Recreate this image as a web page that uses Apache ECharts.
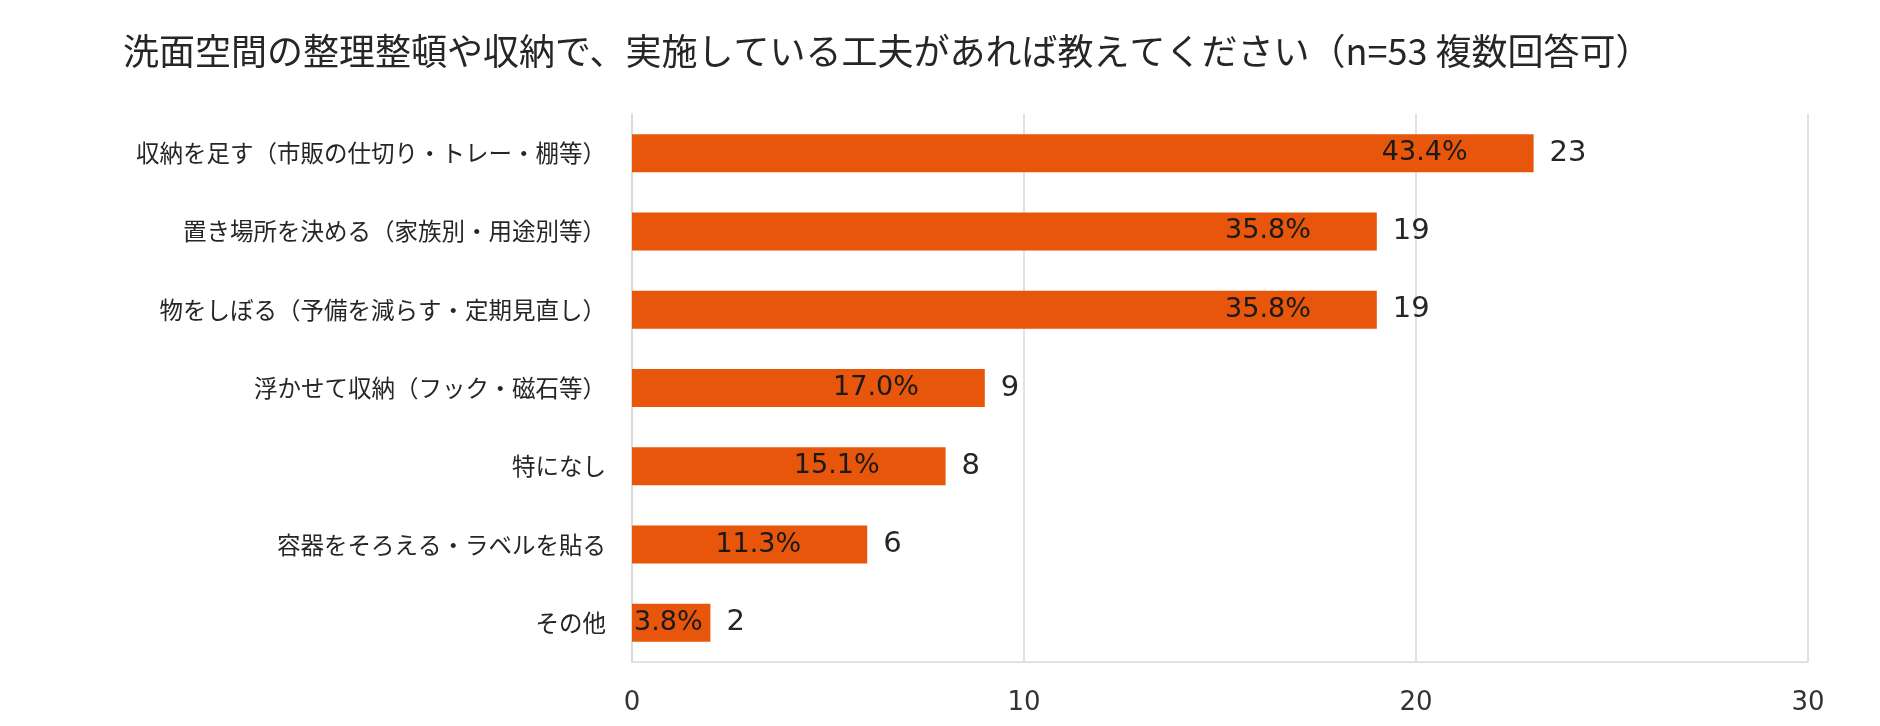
<!DOCTYPE html>
<html>
<head>
<meta charset="utf-8">
<script src="https://cdn.jsdelivr.net/npm/echarts@6/dist/echarts.min.js"></script>
<style>
  html, body { margin: 0; padding: 0; background: #fff; }
  #main { width: 1880px; height: 726px; }
</style>
</head>
<body>
<div id="main"></div>
<script>
// answers (top to bottom)
var categories = [
  '収納を足す（市販の仕切り・トレー・棚等）',
  '置き場所を決める（家族別・用途別等）',
  '物をしぼる（予備を減らす・定期見直し）',
  '浮かせて収納（フック・磁石等）',
  '特になし',
  '容器をそろえる・ラベルを貼る',
  'その他'
];
var counts = [23, 19, 19, 9, 8, 6, 2];
var percents = [43.4, 35.8, 35.8, 17.0, 15.1, 11.3, 3.8];
var xTicks = { min: 0, max: 30, interval: 10 };

var jp = '"Noto Sans CJK JP", "Noto Sans", sans-serif';
var num = '"DejaVu Sans", Verdana, sans-serif';

var barData = counts.map(function (v, i) {
  var small = v < 3;
  return {
    value: v,
    pct: percents[i],
    label: {
      position: small ? 'insideLeft' : 'insideRight',
      distance: small ? 2 : 66
    }
  };
});

try {
  var chart = echarts.init(document.getElementById('main'));
  var option = {
    animation: false,
    backgroundColor: '#ffffff',
    title: {
      text: '洗面空間の整理整頓や収納で、実施している工夫があれば教えてください（n=53 複数回答可）',
      left: 118,
      top: 28,
      textStyle: { fontFamily: jp, fontSize: 36, fontWeight: 'normal', color: '#262626' }
    },
    grid: { left: 632, right: 72, top: 114, bottom: 64 },
    xAxis: {
      type: 'value',
      min: xTicks.min,
      max: xTicks.max,
      interval: xTicks.interval,
      axisLine: { show: true, lineStyle: { color: '#d9d9d9', width: 1.5 } },
      axisTick: { show: false },
      axisLabel: { fontFamily: num, fontSize: 26, color: '#333', margin: 28 },
      splitLine: { show: true, lineStyle: { color: '#d9d9d9', width: 1.5 } }
    },
    yAxis: {
      type: 'category',
      inverse: true,
      data: categories,
      axisLine: { show: true, lineStyle: { color: '#d9d9d9', width: 1.5 } },
      axisTick: { show: false },
      axisLabel: { fontFamily: jp, fontSize: 23.5, color: '#262626', margin: 26 }
    },
    series: [
      {
        type: 'bar',
        data: barData,
        barWidth: 38,
        itemStyle: { color: '#E7560B' },
        label: {
          show: true,
          fontFamily: num,
          fontSize: 27,
          color: '#1a1a1a',
          formatter: function (p) { return p.data.pct.toFixed(1) + '%'; }
        },
        z: 2
      },
      {
        type: 'bar',
        data: counts,
        barWidth: 38,
        barGap: '-100%',
        itemStyle: { color: 'transparent' },
        label: {
          show: true,
          position: 'right',
          distance: 16,
          fontFamily: num,
          fontSize: 29,
          color: '#262626'
        },
        z: 1
      }
    ]
  };
  chart.setOption(option);
} catch (err) {}
</script>
</body>
</html>
